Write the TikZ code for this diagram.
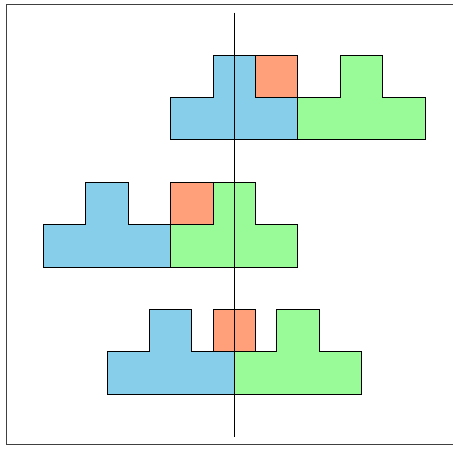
\documentclass[tikz,border=0pt]{standalone}
\usepackage{xcolor}
\usepackage{tikz}

\definecolor{tblue}{HTML}{87CEEB}
\definecolor{tgreen}{HTML}{98FB98}
\definecolor{torange}{HTML}{FFA07A}

\begin{document}
\begin{tikzpicture}[
    piece/.style  = {draw=black, line width=0.7pt, line join=miter},
    frame/.style  = {draw=black!75, line width=0.9pt},
    axis/.style   = {draw=black, line width=0.8pt}
]
\useasboundingbox (-5.526,-1.267) rectangle (5.158,9.30);

% ---------------- outer frame (right side falls off the page) ----------------
\draw[frame] (5.4,9.193) -- (-5.373,9.193) -- (-5.373,-1.184) -- (5.4,-1.184);

% ---------------- rows: blue T / orange square / green T ----------------
% blue x / orange x / green x / row y
\foreach \bx/\ox/\gx/\ry in {-1.5/0.5/1.5/6, -4.5/-1.5/-1.5/3, -3/-0.5/0/0} {
    \draw[piece, fill=tblue] (\bx,\ry) -- ++(3,0) -- ++(0,1) -- ++(-1,0)
        -- ++(0,1) -- ++(-1,0) -- ++(0,-1) -- ++(-1,0) -- cycle;
    \draw[piece, fill=tgreen] (\gx,\ry) -- ++(3,0) -- ++(0,1) -- ++(-1,0)
        -- ++(0,1) -- ++(-1,0) -- ++(0,-1) -- ++(-1,0) -- cycle;
    \draw[piece, fill=torange] (\ox,\ry+1) rectangle ++(1,1);
}

% ---------------- vertical axis ----------------
\coordinate (axis_top) at (0,9.0);
\coordinate (axis_bot) at (0,-1.0);
\draw[axis] (axis_top) -- (axis_bot);

\end{tikzpicture}
\end{document}
